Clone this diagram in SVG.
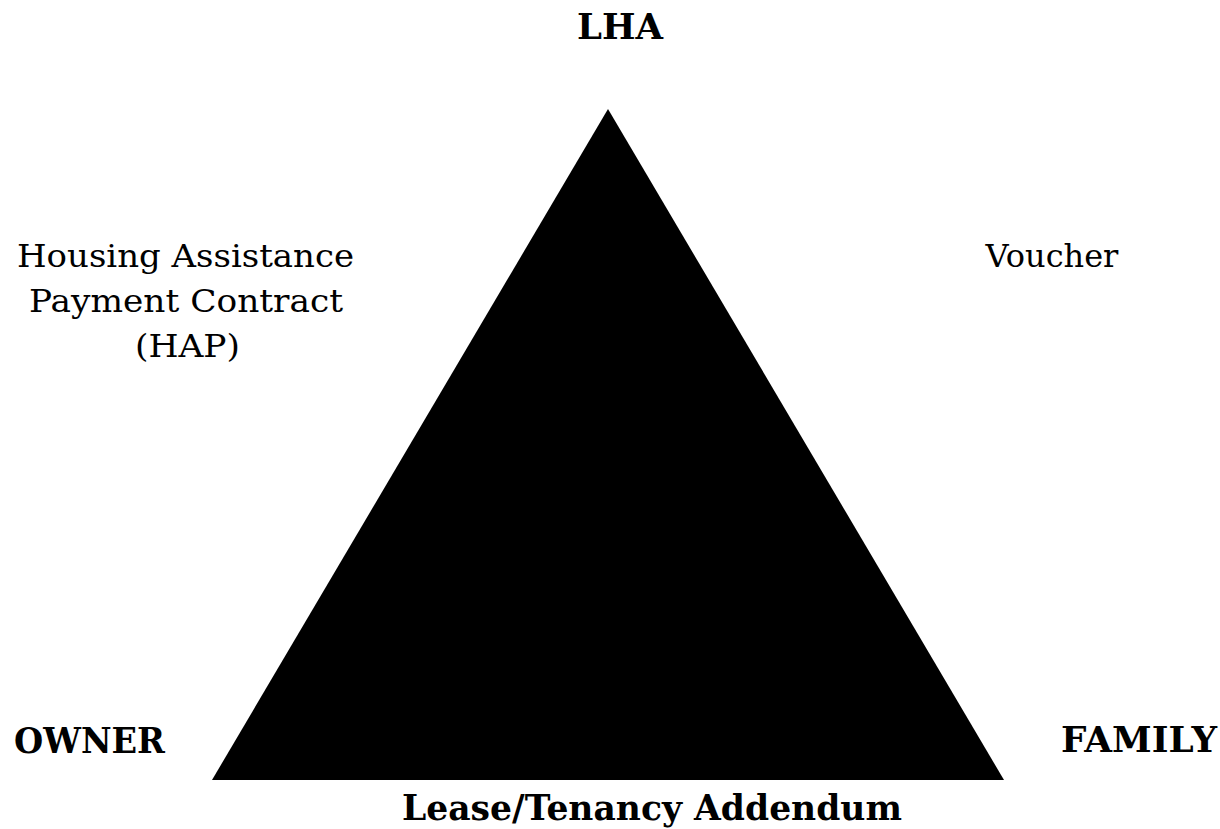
<svg xmlns="http://www.w3.org/2000/svg" width="1220" height="829" viewBox="0 0 1220 829">
<style>
.t{font-family:"DejaVu Serif","Liberation Serif",serif;font-size:32px;fill:#000}
.b{font-weight:bold;font-size:35px}
</style>
<rect width="1220" height="829" fill="#fff"/>
<g id="triangle"><polygon points="608,109 212,780 1004,780" fill="#000"/></g>
<g id="lha"><text class="t b" x="577" y="39" textLength="86" lengthAdjust="spacingAndGlyphs">LHA</text></g>
<g id="owner"><text class="t b" x="14" y="753" textLength="151" lengthAdjust="spacingAndGlyphs">OWNER</text></g>
<g id="family"><text class="t b" x="1061" y="752" textLength="156" lengthAdjust="spacingAndGlyphs">FAMILY</text></g>
<g id="hap"><text class="t" x="17" y="267" textLength="337" lengthAdjust="spacingAndGlyphs">Housing Assistance</text><text class="t" x="29" y="312" textLength="314" lengthAdjust="spacingAndGlyphs">Payment Contract</text><text class="t" x="135" y="357" textLength="105" lengthAdjust="spacingAndGlyphs">(HAP)</text></g>
<g id="voucher"><text class="t" x="1052" y="267" text-anchor="middle">Voucher</text></g>
<g id="lease"><text class="t b" x="402" y="820" style="font-size:36px" textLength="500" lengthAdjust="spacingAndGlyphs">Lease/Tenancy Addendum</text></g>
</svg>
